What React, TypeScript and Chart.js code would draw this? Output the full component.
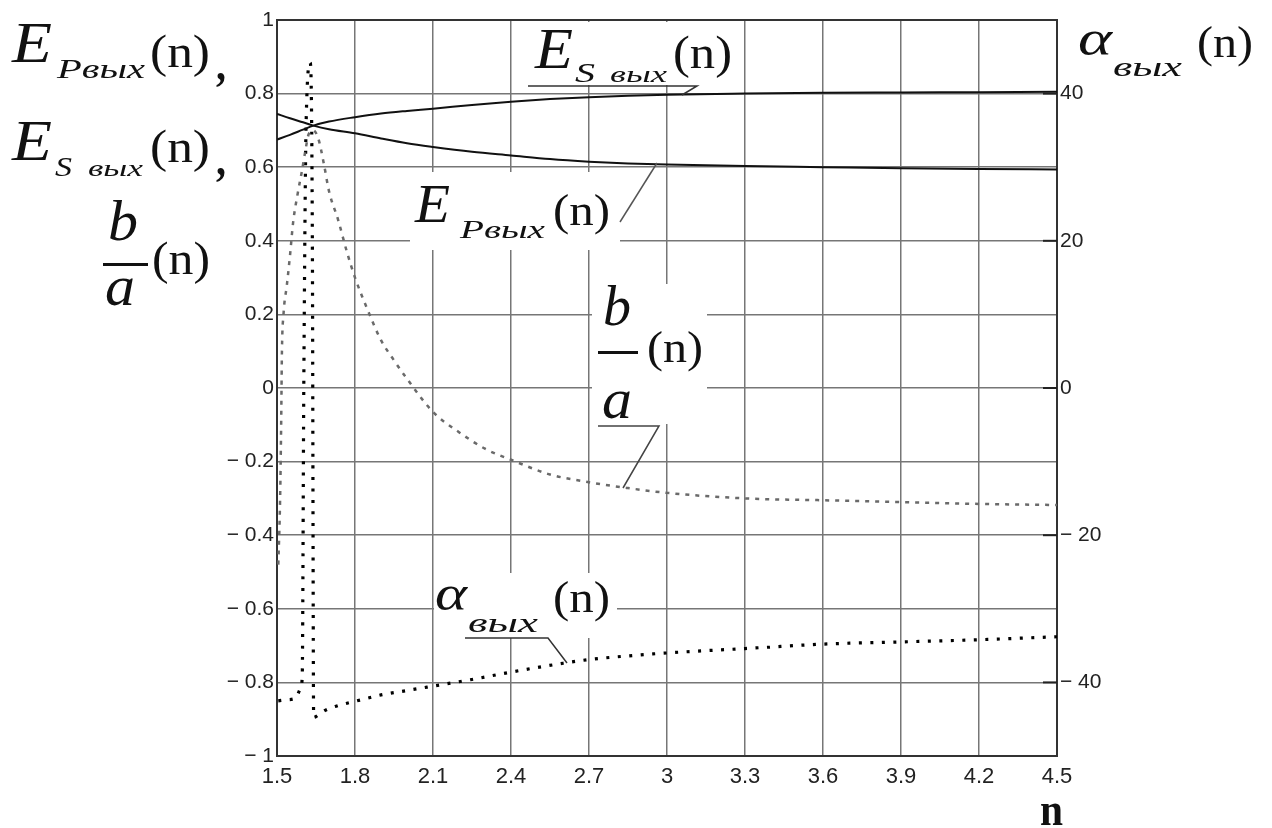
import React, { useEffect, useRef } from 'react';
import { Chart, registerables } from 'chart.js';

Chart.register(...registerables);

// ---- data ----
const xTicks = [1.5, 1.8, 2.1, 2.4, 2.7, 3.0, 3.3, 3.6, 3.9, 4.2, 4.5];
const yTicks = [-1, -0.8, -0.6, -0.4, -0.2, 0, 0.2, 0.4, 0.6, 0.8, 1];
const y1Ticks = [-40, -20, 0, 20, 40];

const nE = [1.5, 1.55, 1.6, 1.64, 1.7, 1.8, 1.9, 2.0, 2.1, 2.25, 2.4, 2.55, 2.7, 2.85, 3.0, 3.3, 3.6, 3.9, 4.2, 4.5];
const eS = [0.675, 0.688, 0.702, 0.713, 0.724, 0.736, 0.746, 0.753, 0.759, 0.769, 0.778, 0.785, 0.79, 0.794, 0.797, 0.8, 0.802, 0.803, 0.804, 0.805];
const eP = [0.745, 0.733, 0.722, 0.713, 0.703, 0.692, 0.678, 0.665, 0.655, 0.642, 0.632, 0.622, 0.615, 0.61, 0.607, 0.603, 0.6, 0.597, 0.595, 0.594];

const nBA = [1.505, 1.512, 1.516, 1.519, 1.525, 1.538, 1.55, 1.562, 1.58, 1.596, 1.608, 1.622, 1.64, 1.66, 1.68, 1.7, 1.735, 1.77, 1.8, 1.85, 1.9, 1.95, 2.0, 2.1, 2.2, 2.3, 2.4, 2.55, 2.7, 2.85, 3.0, 3.3, 3.6, 3.9, 4.2, 4.5];
const ba = [-0.48, -0.3, -0.1, 0.1, 0.2, 0.28, 0.36, 0.45, 0.53, 0.59, 0.64, 0.69, 0.7, 0.675, 0.61, 0.535, 0.457, 0.367, 0.3, 0.21, 0.13, 0.075, 0.025, -0.065, -0.12, -0.165, -0.195, -0.235, -0.256, -0.272, -0.285, -0.3, -0.305, -0.31, -0.315, -0.318];

const nA = [1.505, 1.54, 1.573, 1.59, 1.597, 1.603, 1.612, 1.628, 1.636, 1.641, 1.66, 1.685, 1.73, 1.773, 1.82, 1.9, 2.0, 2.1, 2.25, 2.4, 2.6, 2.7, 2.85, 3.0, 3.3, 3.6, 3.9, 4.2, 4.5];
const alpha = [-42.5, -42.35, -42.1, -40.9, -39.3, 0, 36, 44.2, 20, -44.75, -44.4, -43.8, -43.2, -42.8, -42.4, -41.7, -41.1, -40.5, -39.6, -38.6, -37.4, -36.9, -36.4, -36.0, -35.4, -34.8, -34.5, -34.2, -33.8];

const pts = (xs: number[], ys: number[]) => xs.map((x, i) => ({ x, y: ys[i] }));

const fmt = (v: number) => {
  const r = Math.round(v * 10) / 10;
  if (r < 0) return '\u2212 ' + String(Math.abs(r));
  return String(r === 0 ? 0 : r);
};

const SERIF = '"Liberation Serif", "DejaVu Serif", serif';

function fitText(ctx: CanvasRenderingContext2D, text: string, x: number, y: number, w: number, font: string) {
  ctx.font = font;
  const m = ctx.measureText(text).width || 1;
  ctx.save();
  ctx.translate(x, y);
  ctx.scale(w / m, 1);
  ctx.textAlign = 'left';
  ctx.textBaseline = 'alphabetic';
  ctx.fillText(text, 0, 0);
  ctx.restore();
}

function seg(ctx: CanvasRenderingContext2D, p: number[][], color: string, width: number) {
  ctx.save();
  ctx.strokeStyle = color;
  ctx.lineWidth = width;
  ctx.beginPath();
  ctx.moveTo(p[0][0], p[0][1]);
  for (let i = 1; i < p.length; i++) ctx.lineTo(p[i][0], p[i][1]);
  ctx.stroke();
  ctx.restore();
}

const annotPlugin = {
  id: 'annot',
  beforeDatasetsDraw(chart: any) {
    const ctx: CanvasRenderingContext2D = chart.ctx;
    const a = chart.chartArea;
    ctx.save();
    ctx.fillStyle = '#fff';
    const boxes = [
      [528, 22, 207, 63],
      [410, 172, 210, 78],
      [592, 284, 115, 140],
      [434, 573, 183, 65],
    ];
    boxes.forEach(([x, y, w, h]) => ctx.fillRect(x, y, w, h));
    ctx.strokeStyle = '#333';
    ctx.lineWidth = 2;
    ctx.strokeRect(a.left, a.top, a.right - a.left, a.bottom - a.top);
    const y1 = chart.scales.y1;
    y1.ticks.forEach((t: any) => {
      const py = y1.getPixelForValue(t.value);
      seg(ctx, [[a.right - 14, py], [a.right, py]], '#222', 2);
    });
    ctx.restore();
  },
  afterDatasetsDraw(chart: any) {
    const ctx: CanvasRenderingContext2D = chart.ctx;
    ctx.save();
    ctx.fillStyle = '#111';
    const it = (s: number) => `italic ${s}px ${SERIF}`;
    const up = (s: number) => `${s}px ${SERIF}`;

    // Left title block
    fitText(ctx, 'E', 12, 62, 40, it(58));
    fitText(ctx, 'Pвых', 57, 78, 88, it(28));
    fitText(ctx, '(n)', 150, 67, 60, up(46));
    fitText(ctx, ',', 216, 80, 10, 'bold ' + up(46));
    fitText(ctx, 'E', 12, 160, 40, it(58));
    fitText(ctx, 'S', 55, 176, 17, it(28));
    fitText(ctx, 'вых', 88, 176, 55, it(24));
    fitText(ctx, '(n)', 150, 162, 60, up(46));
    fitText(ctx, ',', 216, 175, 10, 'bold ' + up(46));
    fitText(ctx, 'b', 108, 240, 30, it(58));
    ctx.fillRect(103, 263, 45, 3);
    fitText(ctx, '(n)', 152, 274, 58, up(46));
    fitText(ctx, 'a', 105, 305, 30, it(56));

    // Right title
    fitText(ctx, 'α', 1078, 55, 34, it(50));
    fitText(ctx, 'вых', 1113, 76, 69, it(28));
    fitText(ctx, '(n)', 1197, 57, 56, up(44));

    // E_S label
    fitText(ctx, 'E', 535, 68, 38, it(58));
    fitText(ctx, 'S', 575, 82, 20, it(28));
    fitText(ctx, 'вых', 610, 82, 57, it(24));
    fitText(ctx, '(n)', 673, 68, 59, up(46));
    seg(ctx, [[528, 86], [697, 86], [682, 95]], '#333', 1.5);

    // E_P label
    fitText(ctx, 'E', 415, 222, 35, it(54));
    fitText(ctx, 'Pвых', 460, 238, 85, it(26));
    fitText(ctx, '(n)', 553, 225, 57, up(44));
    seg(ctx, [[620, 222], [657, 163]], '#555', 1.5);

    // b/a label
    fitText(ctx, 'b', 603, 325, 28, it(56));
    ctx.fillRect(598, 351, 40, 3);
    fitText(ctx, '(n)', 647, 362, 56, up(44));
    fitText(ctx, 'a', 602, 418, 30, it(56));
    seg(ctx, [[598, 426], [659, 426], [623, 488]], '#444', 1.5);

    // alpha label
    fitText(ctx, 'α', 435, 610, 32, it(50));
    fitText(ctx, 'вых', 468, 632, 70, it(28));
    fitText(ctx, '(n)', 553, 612, 57, up(44));
    seg(ctx, [[465, 638], [548, 638], [567, 663]], '#333', 1.5);

    // x axis title
    fitText(ctx, 'n', 1040, 825, 23, 'bold ' + up(46));
    ctx.restore();
  },
};

export default function App() {
  const ref = useRef<HTMLCanvasElement>(null);
  useEffect(() => {
    if (!ref.current) return;
    const gridColor = '#767676';
    const tickFont = { family: '"Liberation Sans", Arial, sans-serif', size: 21 };
    const chart = new Chart(ref.current, {
      type: 'scatter',
      data: {
        datasets: [
          { label: 'E_S', data: pts(nE, eS), showLine: true, borderColor: '#111', borderWidth: 2, pointRadius: 0, cubicInterpolationMode: 'monotone', yAxisID: 'y' },
          { label: 'E_P', data: pts(nE, eP), showLine: true, borderColor: '#111', borderWidth: 2, pointRadius: 0, cubicInterpolationMode: 'monotone', yAxisID: 'y' },
          { label: 'b/a', data: pts(nBA, ba), showLine: true, borderColor: '#6a6a6a', borderWidth: 2.5, borderDash: [4, 6], pointRadius: 0, cubicInterpolationMode: 'monotone', yAxisID: 'y' },
          { label: 'alpha', data: pts(nA, alpha), showLine: true, borderColor: '#000', borderWidth: 3.2, borderDash: [3, 8.5], pointRadius: 0, cubicInterpolationMode: 'monotone', yAxisID: 'y1' },
        ],
      } as any,
      options: {
        animation: false,
        responsive: false,
        devicePixelRatio: 1,
        layout: { padding: { top: 20, left: 0, right: 0, bottom: 0 } },
        plugins: { legend: { display: false }, tooltip: { enabled: false } },
        scales: {
          x: {
            type: 'linear',
            min: 1.5,
            max: 4.5,
            afterBuildTicks: (s: any) => { s.ticks = xTicks.map((v) => ({ value: v })); },
            afterFit: (s: any) => { s.height = 72; },
            grid: { color: gridColor, lineWidth: 1.5, drawTicks: false },
            border: { display: false },
            ticks: { color: '#222', font: { ...tickFont, size: 22 }, padding: 8, callback: (v: any) => fmt(Number(v)), maxRotation: 0, autoSkip: false },
          },
          y: {
            type: 'linear',
            position: 'left',
            min: -1,
            max: 1,
            afterBuildTicks: (s: any) => { s.ticks = yTicks.map((v) => ({ value: v })); },
            afterFit: (s: any) => { s.width = 277; },
            grid: { color: gridColor, lineWidth: 1.5, drawTicks: false },
            border: { display: false },
            ticks: { color: '#222', font: tickFont, padding: 3, callback: (v: any) => fmt(Number(v)), autoSkip: false },
          },
          y1: {
            type: 'linear',
            position: 'right',
            min: -50,
            max: 50,
            afterBuildTicks: (s: any) => { s.ticks = y1Ticks.map((v) => ({ value: v })); },
            afterFit: (s: any) => { s.width = 215; },
            grid: { display: false, drawTicks: false },
            border: { display: false },
            ticks: { color: '#222', font: tickFont, padding: 3, callback: (v: any) => fmt(Number(v)), autoSkip: false },
          },
        },
      } as any,
      plugins: [annotPlugin as any],
    });
    return () => chart.destroy();
  }, []);
  return (
    <div style={{ position: 'absolute', left: 0, top: 0, width: 1272, height: 828, background: '#fff' }}>
      <canvas ref={ref} width={1272} height={828} style={{ display: 'block' }} />
    </div>
  );
}
